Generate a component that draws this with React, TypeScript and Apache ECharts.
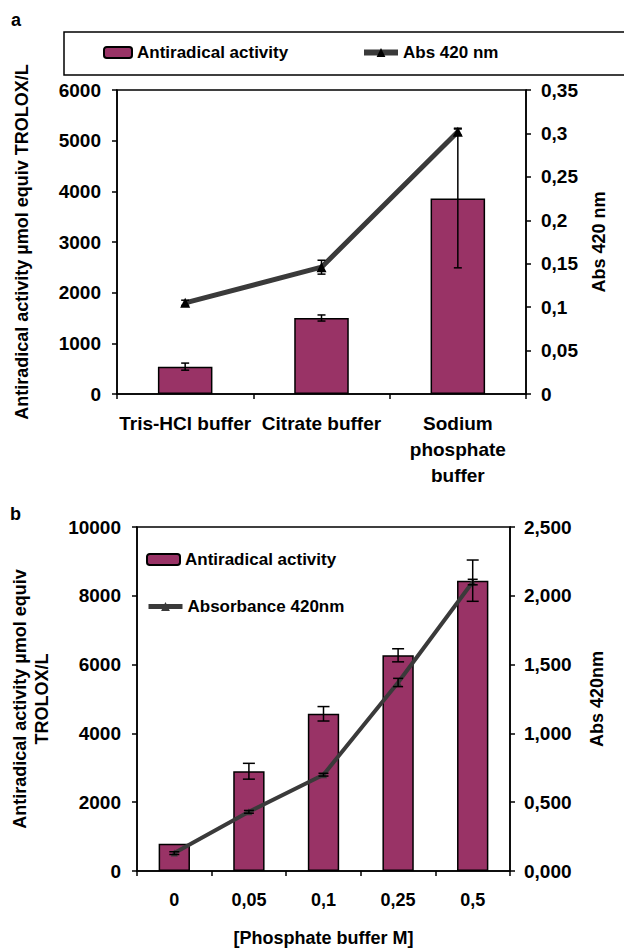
import React, { useEffect, useRef } from "react";
import * as echarts from "echarts";

const catsA = ["Tris-HCl buffer", "Citrate buffer", "Sodium\nphosphate\nbuffer"];
const actA = [540, 1500, 3860];
const actAErr = [70, 60, 1370];
const absA = [0.105, 0.146, 0.302];
const absAErr = [0.003, 0.008, 0.004];

const catsB = ["0", "0,05", "0,1", "0,25", "0,5"];
const actB = [790, 2900, 4570, 6270, 8440];
const actBErr = [0, 230, 210, 190, 600];
const absB = [0.13, 0.43, 0.7, 1.37, 2.1];
const absBErr = [0.01, 0.01, 0.01, 0.03, 0.02];

const FONT = "'Liberation Sans', Arial, sans-serif";
const BAR = "#993366";
const LINE = "#3a3a3a";

function errSeries(vals: number[], errs: number[], xi: number, yi: number, cap: number) {
  return {
    type: "custom",
    xAxisIndex: xi,
    yAxisIndex: yi,
    z: 10,
    silent: true,
    data: vals.map((v, i) => [i, v, errs[i]]),
    encode: { x: 0, y: 1 },
    renderItem: (params: any, api: any) => {
      const i = api.value(0);
      const v = api.value(1);
      const e = api.value(2);
      if (!e) return { type: "group", children: [] };
      const t = api.coord([i, v + e]);
      const b = api.coord([i, v - e]);
      const st = { stroke: "#000", lineWidth: 1.5 };
      return {
        type: "group",
        children: [
          { type: "line", shape: { x1: t[0], y1: t[1], x2: b[0], y2: b[1] }, style: st },
          { type: "line", shape: { x1: t[0] - cap, y1: t[1], x2: t[0] + cap, y2: t[1] }, style: st },
          { type: "line", shape: { x1: b[0] - cap, y1: b[1], x2: b[0] + cap, y2: b[1] }, style: st },
        ],
      };
    },
  };
}

const lab = { color: "#000", fontWeight: "bold" as const, fontFamily: FONT, fontSize: 19 };
const axLine = { show: true, lineStyle: { color: "#000", width: 1.5 } };
const tick = { show: true, length: 5, lineStyle: { color: "#000", width: 1.5 } };
const plain = (v: number) => String(v);

export default function App() {
  const ref = useRef<HTMLDivElement>(null);
  useEffect(() => {
    const chart = echarts.init(ref.current!, null, { renderer: "svg" });
    const legText = { color: "#000", fontWeight: "bold" as const, fontFamily: FONT, fontSize: 17 };
    chart.setOption({
      animation: false,
      backgroundColor: "#fff",
      textStyle: { fontFamily: FONT },
      grid: [
        { left: 117, right: 98, top: 90, height: 304, show: true, borderColor: "#000", borderWidth: 1.5, backgroundColor: "transparent" },
        { left: 137, right: 114, top: 527, height: 344, show: true, borderColor: "#000", borderWidth: 1.5, backgroundColor: "transparent" },
      ],
      legend: [
        { data: ["Antiradical activity"], left: 103, top: 44, itemWidth: 28, itemHeight: 11, selectedMode: false, textStyle: legText, padding: 0 },
        {
          data: [{ name: "Abs 420 nm", lineStyle: { width: 6, color: LINE } }],
          left: 361, top: 44, itemWidth: 34, itemHeight: 11, selectedMode: false, textStyle: legText, padding: 0,
        },
        { data: ["Antiradical activity"], left: 146, top: 551, itemWidth: 33, itemHeight: 11, selectedMode: false, textStyle: legText, padding: 0 },
        {
          data: [{ name: "Absorbance 420nm", lineStyle: { width: 5, color: LINE } }],
          left: 146, top: 598, itemWidth: 34, itemHeight: 11, selectedMode: false, textStyle: legText, padding: 0,
        },
      ],
      graphic: [
        { type: "rect", shape: { x: 64, y: 32, width: 580, height: 43 }, style: { fill: "none", stroke: "#000", lineWidth: 1.5 } },
        { type: "text", left: 11, top: 11, style: { text: "a", font: `bold 18px ${FONT}`, fill: "#000" } },
        { type: "text", left: 10, top: 505, style: { text: "b", font: `bold 18px ${FONT}`, fill: "#000" } },
      ],
      xAxis: [
        {
          type: "category", gridIndex: 0, data: catsA,
          axisLine: axLine, axisTick: tick,
          axisLabel: { ...lab, fontSize: 19, interval: 0, margin: 16, lineHeight: 26 },
        },
        {
          type: "category", gridIndex: 1, data: catsB,
          axisLine: axLine, axisTick: tick,
          axisLabel: { ...lab, fontSize: 18, interval: 0, margin: 20 },
          name: "[Phosphate buffer M]", nameLocation: "middle", nameGap: 58,
          nameTextStyle: { ...lab, fontSize: 18 },
        },
      ],
      yAxis: [
        {
          type: "value", gridIndex: 0, min: 0, max: 6000, interval: 1000,
          axisLine: axLine, axisTick: tick, splitLine: { show: false },
          axisLabel: { ...lab, margin: 16, formatter: plain },
          name: "Antiradical activity µmol equiv TROLOX/L", nameLocation: "middle", nameGap: 86,
          nameTextStyle: { ...lab, fontSize: 18 },
        },
        {
          type: "value", gridIndex: 0, position: "right", min: 0, max: 0.35, interval: 0.05,
          axisLine: axLine, axisTick: tick, splitLine: { show: false },
          axisLabel: { ...lab, margin: 15, formatter: (v: number) => String(Number(v.toFixed(2))).replace(".", ",") },
          name: "Abs 420 nm", nameLocation: "middle", nameGap: 64,
          nameTextStyle: { ...lab, fontSize: 18 },
        },
        {
          type: "value", gridIndex: 1, min: 0, max: 10000, interval: 2000,
          axisLine: axLine, axisTick: tick, splitLine: { show: false },
          axisLabel: { ...lab, margin: 16, formatter: plain },
          name: "Antiradical activity µmol equiv\nTROLOX/L", nameLocation: "middle", nameGap: 84,
          nameTextStyle: { ...lab, fontSize: 18, lineHeight: 22 },
        },
        {
          type: "value", gridIndex: 1, position: "right", min: 0, max: 2.5, interval: 0.5,
          axisLine: axLine, axisTick: tick, splitLine: { show: false },
          axisLabel: { ...lab, margin: 14, formatter: (v: number) => v.toFixed(3).replace(".", ",") },
          name: "Abs 420nm", nameLocation: "middle", nameGap: 78,
          nameTextStyle: { ...lab, fontSize: 18 },
        },
      ],
      series: [
        {
          name: "Antiradical activity", type: "bar", xAxisIndex: 0, yAxisIndex: 0, data: actA, barWidth: "40%",
          itemStyle: { color: BAR, borderColor: "#000", borderWidth: 1.5 },
        },
        {
          name: "Abs 420 nm", type: "line", xAxisIndex: 0, yAxisIndex: 1, data: absA, z: 5,
          lineStyle: { color: LINE, width: 5 }, itemStyle: { color: "#000" },
          symbol: "triangle", symbolSize: 10,
        },
        errSeries(actA, actAErr, 0, 0, 4),
        errSeries(absA, absAErr, 0, 1, 4),
        {
          name: "Antiradical activity", type: "bar", xAxisIndex: 1, yAxisIndex: 2, data: actB, barWidth: "42%",
          itemStyle: { color: BAR, borderColor: "#000", borderWidth: 1.5 },
        },
        {
          name: "Absorbance 420nm", type: "line", xAxisIndex: 1, yAxisIndex: 3, data: absB, z: 5,
          lineStyle: { color: LINE, width: 4 }, itemStyle: { color: LINE },
          symbol: "triangle", symbolSize: 7,
        },
        errSeries(actB, actBErr, 1, 2, 6),
        errSeries(absB, absBErr, 1, 3, 5),
      ],
    });
    return () => chart.dispose();
  }, []);
  return (
    <div
      ref={ref}
      style={{ position: "fixed", left: 0, top: 0, width: 624, height: 948, background: "#fff" }}
    />
  );
}
